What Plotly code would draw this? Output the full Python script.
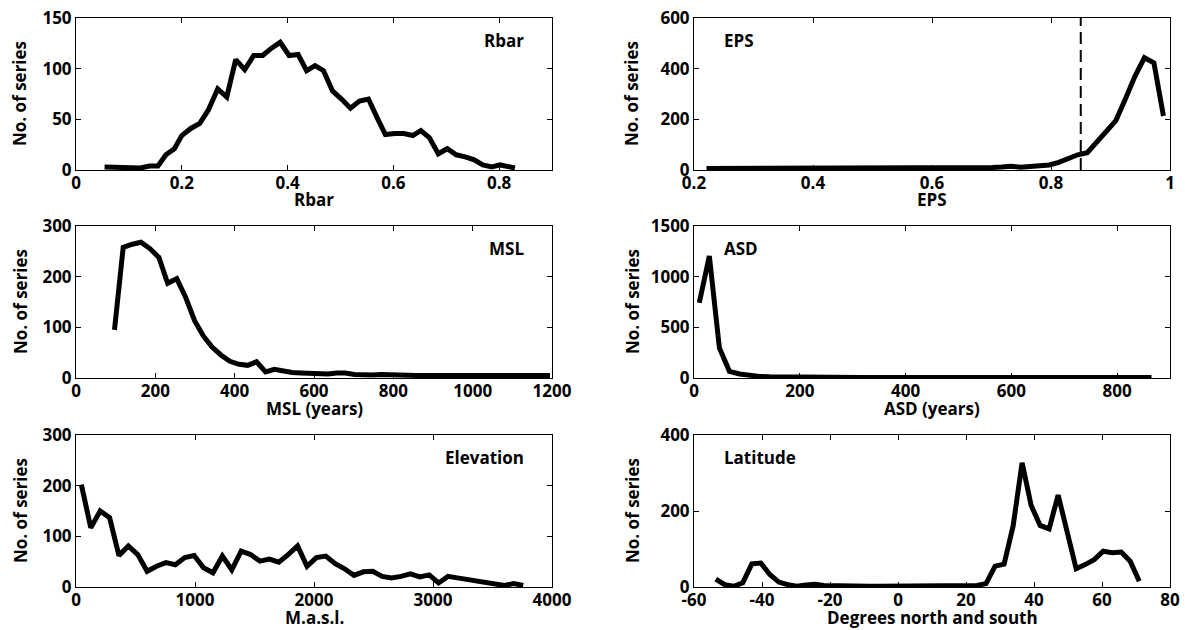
import plotly.graph_objects as go
from plotly.subplots import make_subplots

# ---------------- data ----------------
rbar_x = [0.054, 0.071, 0.088, 0.105, 0.122, 0.139, 0.155, 0.17, 0.186, 0.2, 0.217, 0.234,
          0.25, 0.268, 0.285, 0.302, 0.319, 0.336, 0.353, 0.369, 0.386, 0.403, 0.42, 0.436,
          0.452, 0.468, 0.485, 0.502, 0.519, 0.536, 0.553, 0.569, 0.585, 0.603, 0.62, 0.637,
          0.652, 0.668, 0.685, 0.702, 0.719, 0.736, 0.753, 0.769, 0.786, 0.802, 0.817, 0.83]
rbar_y = [3, 3, 2, 2.6, 2, 4, 4, 15, 21, 34, 41, 46, 59, 80, 72, 109, 99, 113, 113, 120, 126,
          113, 114, 98, 103, 98, 78, 70, 61, 68, 70, 52, 35, 36, 36, 34, 39, 32, 16, 21, 15, 13,
          10, 5, 3, 5, 3, 2]

eps_x = [0.221, 0.237, 0.253, 0.269, 0.285, 0.301, 0.317, 0.333, 0.349, 0.365, 0.381, 0.397,
         0.413, 0.429, 0.445, 0.461, 0.477, 0.493, 0.509, 0.525, 0.541, 0.557, 0.573, 0.589,
         0.605, 0.621, 0.637, 0.653, 0.669, 0.685, 0.701, 0.717, 0.733, 0.749, 0.765, 0.781,
         0.797, 0.813, 0.829, 0.845, 0.861, 0.877, 0.893, 0.909, 0.925, 0.941, 0.957, 0.973,
         0.989]
eps_y = [6, 6, 6, 6, 6, 7, 8, 7, 6, 6, 6, 6, 6, 6, 6, 6, 6, 6, 6, 6, 6, 6, 6, 6, 6, 6, 6, 6,
         7, 8, 10, 12, 15, 11, 13, 16, 20, 30, 47, 60, 68, 108, 150, 195, 280, 370, 443, 423, 213]
eps_threshold = 0.85

msl_x = [97, 119, 142, 164, 187, 209, 231, 254, 276, 299, 321, 343, 366, 388, 411, 433, 455,
         478, 500, 523, 545, 567, 590, 612, 635, 657, 679, 702, 724, 747, 769, 791, 814, 836,
         859, 881, 903, 926, 948, 971, 993, 1015, 1038, 1060, 1083, 1105, 1127, 1150, 1172, 1195]
msl_y = [95, 258, 264, 268, 255, 238, 187, 196, 160, 113, 83, 61, 45, 33, 27, 25, 32, 12, 17,
         13, 11, 10, 9, 8, 8, 10, 10, 7, 6, 6, 7, 6, 5, 5, 5, 5, 5, 5, 5, 5, 5, 5, 5, 5, 5, 5,
         5, 5, 5, 5]

asd_x = [10, 29, 48, 67, 86, 105, 124, 143, 162, 181, 200, 219, 238, 257, 276, 295, 314, 333,
         352, 371, 390, 409, 428, 447, 466, 485, 504, 523, 542, 561, 580, 599, 618, 637, 656,
         675, 694, 713, 732, 751, 770, 789, 808, 827, 846, 865]
asd_y = [742, 1203, 297, 66, 40, 26, 16, 12, 10, 8, 7, 6, 6, 6, 5, 5, 5, 5, 5, 5, 5, 5, 5, 5,
         5, 5, 5, 5, 5, 5, 5, 5, 5, 5, 5, 5, 5, 5, 5, 5, 5, 5, 5, 5, 5, 5]

elev_x = [45, 124, 203, 282, 361, 440, 519, 598, 677, 756, 835, 914, 993, 1072, 1151, 1230,
          1309, 1388, 1467, 1546, 1625, 1704, 1783, 1862, 1941, 2020, 2099, 2178, 2257, 2336,
          2415, 2494, 2573, 2652, 2731, 2810, 2889, 2968, 3047, 3126, 3205, 3284, 3363, 3442,
          3521, 3600, 3679, 3758]
elev_y = [202, 117, 150, 137, 62, 81, 64, 31, 41, 48, 44, 58, 62, 38, 28, 61, 34, 71, 64, 51,
          55, 49, 64, 81, 41, 58, 61, 46, 36, 23, 30, 31, 21, 18, 21, 26, 20, 24, 8, 21, 18, 15,
          11, 8, 7, 3, 7, 3]

lat_x = [-53.6, -50.95, -48.3, -45.65, -43.0, -40.35, -37.7, -35.05, -32.4, -29.75, -27.1,
         -24.45, -21.8, -19.15, -16.5, -13.85, -11.2, -8.55, -5.9, -3.25, -0.6, 2.05, 4.7, 7.35,
         10.0, 12.65, 15.3, 17.95, 20.6, 23.25, 25.9, 28.55, 31.2, 33.85, 36.5, 39.15, 41.8,
         44.45, 47.1, 49.75, 52.4, 55.05, 57.7, 60.35, 63.0, 65.65, 68.3, 70.95]
lat_y = [21, 6, 2, 11, 61, 63, 33, 13, 6, 2, 5, 7, 4, 3, 2, 2, 2, 2, 2, 2, 2, 2, 2, 2, 2,
         2, 3, 4, 5, 4, 9, 55, 60, 160, 327, 215, 162, 153, 242, 147, 48, 59, 72, 94, 90, 92,
         68, 15]

# tick values / labels
rbar_xticks = [0, 0.2, 0.4, 0.6, 0.8]
rbar_yticks = [0, 50, 100, 150]
eps_xticks = [0.2, 0.4, 0.6, 0.8, 1]
eps_yticks = [0, 200, 400, 600]
msl_xticks = [0, 200, 400, 600, 800, 1000, 1200]
msl_yticks = [0, 100, 200, 300]
asd_xticks = [0, 200, 400, 600, 800]
asd_yticks = [0, 500, 1000, 1500]
elev_xticks = [0, 1000, 2000, 3000, 4000]
elev_yticks = [0, 100, 200, 300]
lat_xticks = [-60, -40, -20, 0, 20, 40, 60, 80]
lat_xticklabels = ["-60", "-40", "-20", "0", "20", "40", "60", "80"]
lat_yticks = [0, 200, 400]

panels = [
    # (row, col, x, y, xrange, yrange, xticks, xticklabels, yticks, xtitle, label, label_side)
    (1, 1, rbar_x, rbar_y, [0, 0.9], [0, 150], rbar_xticks, None, rbar_yticks, "Rbar", "Rbar", "right"),
    (1, 2, eps_x, eps_y, [0.2, 1], [0, 600], eps_xticks, None, eps_yticks, "EPS", "EPS", "left"),
    (2, 1, msl_x, msl_y, [0, 1200], [0, 300], msl_xticks, None, msl_yticks, "MSL (years)", "MSL", "right"),
    (2, 2, asd_x, asd_y, [0, 900], [0, 1500], asd_xticks, None, asd_yticks, "ASD (years)", "ASD", "left"),
    (3, 1, elev_x, elev_y, [0, 4000], [0, 300], elev_xticks, None, elev_yticks, "M.a.s.l.", "Elevation", "right"),
    (3, 2, lat_x, lat_y, [-60, 80], [0, 400], lat_xticks, lat_xticklabels, lat_yticks,
     "Degrees north and south", "Latitude", "left"),
]

W, H = 1185, 630
col_dom = {1: [76 / W, 552 / W], 2: [694 / W, 1170 / W]}
row_dom = {1: [1 - 170 / H, 1 - 18 / H], 2: [1 - 378 / H, 1 - 226 / H], 3: [1 - 587 / H, 1 - 435 / H]}

FONT = "Open Sans"
FSIZE = 17
tfont = dict(family=FONT, size=FSIZE, color="black", weight=700)

fig = make_subplots(rows=3, cols=2)

for i, (r, c, xs, ys, xr, yr, xt, xtl, yt, xtitle, label, side) in enumerate(panels):
    fig.add_trace(go.Scatter(x=xs, y=ys, mode="lines",
                             line=dict(color="black", width=5), showlegend=False),
                  row=r, col=c)
    n = i + 1
    xa = "xaxis" if n == 1 else f"xaxis{n}"
    ya = "yaxis" if n == 1 else f"yaxis{n}"
    xref = "x" if n == 1 else f"x{n}"
    yref = "y" if n == 1 else f"y{n}"
    common = dict(showline=True, linecolor="black", linewidth=1, mirror="ticks",
                  ticks="inside", ticklen=5, tickwidth=1, tickcolor="black",
                  showgrid=False, zeroline=False, automargin=False,
                  tickfont=tfont)
    fig.layout[xa].update(domain=col_dom[c], range=xr, tickvals=xt,
                          ticktext=xtl if xtl else [f"{v:g}" for v in xt],
                          ticklabelstandoff=-2, **common)
    fig.layout[ya].update(domain=row_dom[r], range=yr, tickvals=yt,
                          ticktext=[f"{v:g}" for v in yt], **common)
    # x-axis title
    fig.add_annotation(text=xtitle, xref=f"{xref} domain", yref=f"{yref} domain",
                       x=0.5, y=0, yshift=-30, xanchor="center", yanchor="middle",
                       showarrow=False, font=tfont)
    # y-axis title
    fig.add_annotation(text="No. of series", xref=f"{xref} domain", yref=f"{yref} domain",
                       x=0, xshift=-56 if c == 1 else -62, y=0.5, textangle=-90,
                       xanchor="center", yanchor="middle", showarrow=False, font=tfont)
    # panel label
    if side == "right":
        fig.add_annotation(text=label, xref=f"{xref} domain", yref=f"{yref} domain",
                           x=1, xshift=-26, y=1, yshift=-22, xanchor="right", yanchor="middle",
                           showarrow=False, font=tfont)
    else:
        fig.add_annotation(text=label, xref=f"{xref} domain", yref=f"{yref} domain",
                           x=0, xshift=28, y=1, yshift=-22, xanchor="left", yanchor="middle",
                           showarrow=False, font=tfont)

# EPS threshold dashed line
fig.add_trace(go.Scatter(x=[eps_threshold, eps_threshold], y=[0, 600], mode="lines",
                         line=dict(color="black", width=2, dash="12px,6px"), showlegend=False),
              row=1, col=2)

fig.update_layout(width=W, height=H, margin=dict(l=0, r=0, t=0, b=0),
                  paper_bgcolor="white", plot_bgcolor="white", showlegend=False)

fig.write_html("out.html")
